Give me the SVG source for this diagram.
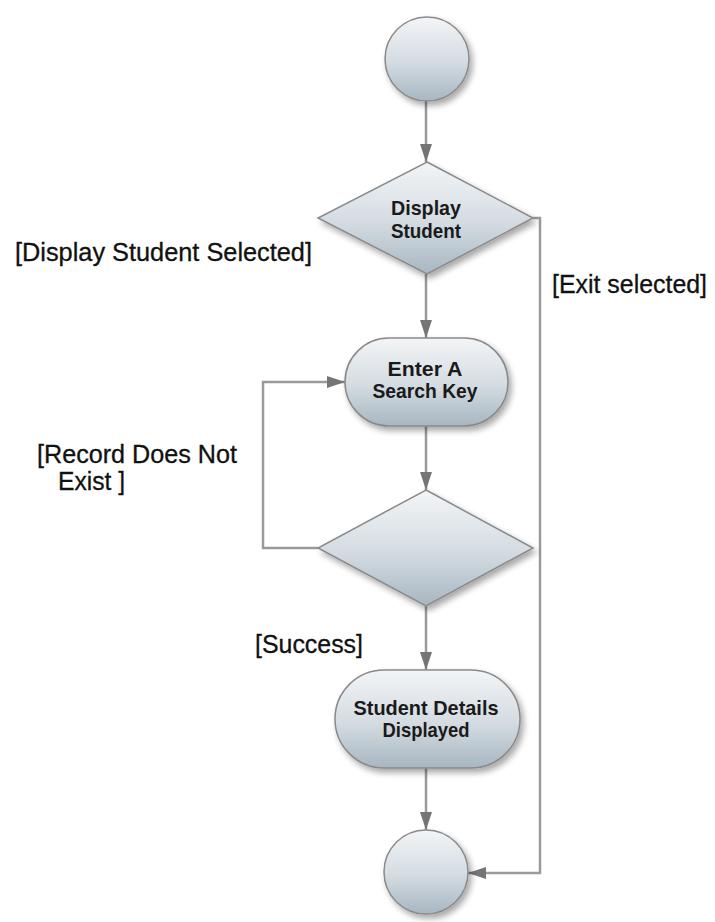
<svg xmlns="http://www.w3.org/2000/svg" width="715" height="922" viewBox="0 0 715 922">
<defs>
<linearGradient id="g" x1="0" y1="0" x2="0" y2="1">
<stop offset="0" stop-color="#f3f5f7"/>
<stop offset="0.55" stop-color="#d3dbe1"/>
<stop offset="1" stop-color="#a7b6c1"/>
</linearGradient>
<filter id="sh" x="-20%" y="-20%" width="150%" height="150%">
<feGaussianBlur in="SourceAlpha" stdDeviation="3"/>
<feOffset dx="3" dy="4" result="b"/>
<feComponentTransfer><feFuncA type="linear" slope="0.35"/></feComponentTransfer>
<feMerge><feMergeNode/><feMergeNode in="SourceGraphic"/></feMerge>
</filter>
<marker id="ah" markerWidth="18" markerHeight="12" refX="18" refY="6" orient="auto" markerUnits="userSpaceOnUse">
<path d="M0,0 L18,6 L0,12 Z" fill="#757575"/>
</marker>
</defs>
<style>
.node{fill:url(#g);stroke:#8a8a8a;stroke-width:1.5;filter:url(#sh)}
.conn{fill:none;stroke:#9a9a9a;stroke-width:2.5}
.nt{font-family:"Liberation Sans",Arial,sans-serif;font-weight:bold;font-size:20.5px;fill:#1a1a1a;text-anchor:middle}
.lbl{font-family:"Liberation Sans",Arial,sans-serif;font-size:25px;fill:#111111;stroke:#111111;stroke-width:0.3}
</style>
<rect width="715" height="922" fill="#ffffff"/>
<g id="connectors">
<path class="conn" d="M426,101 L426,162" marker-end="url(#ah)"/>
<path class="conn" d="M426,274 L426,338" marker-end="url(#ah)"/>
<path class="conn" d="M426,426 L426,490" marker-end="url(#ah)"/>
<path class="conn" d="M318,548 L263,548 L263,382 L345,382" marker-end="url(#ah)"/>
<path class="conn" d="M426,606 L426,670" marker-end="url(#ah)"/>
<path class="conn" d="M426,768 L426,830" marker-end="url(#ah)"/>
<path class="conn" d="M533,218 L540,218 L540,873 L468,873" marker-end="url(#ah)"/>
</g>
<g id="start"><circle class="node" cx="427" cy="59" r="42"/></g>
<g id="display-student">
<polygon class="node" points="427,162 533,218 427,274 318,218"/>
<text class="nt" x="426" y="215" textLength="70" lengthAdjust="spacingAndGlyphs">Display</text>
<text class="nt" x="426" y="238" textLength="70" lengthAdjust="spacingAndGlyphs">Student</text>
</g>
<g id="enter-search-key">
<rect class="node" x="345" y="338" width="163" height="88" rx="44" ry="44"/>
<text class="nt" x="425" y="376" textLength="75" lengthAdjust="spacingAndGlyphs">Enter A</text>
<text class="nt" x="425" y="398" textLength="105" lengthAdjust="spacingAndGlyphs">Search Key</text>
</g>
<g id="decision">
<polygon class="node" points="426,490 533,548 426,606 318,548"/>
</g>
<g id="student-details">
<rect class="node" x="335" y="670" width="185" height="98" rx="49" ry="49"/>
<text class="nt" x="426" y="715" textLength="145" lengthAdjust="spacingAndGlyphs">Student Details</text>
<text class="nt" x="426" y="737" textLength="87" lengthAdjust="spacingAndGlyphs">Displayed</text>
</g>
<g id="end"><circle class="node" cx="426" cy="872" r="42"/></g>
<g id="labels">
<text class="lbl" x="15" y="261" textLength="297" lengthAdjust="spacingAndGlyphs">[Display Student Selected]</text>
<text class="lbl" x="552" y="293" textLength="155" lengthAdjust="spacingAndGlyphs">[Exit selected]</text>
<text class="lbl" x="37" y="463" textLength="200" lengthAdjust="spacingAndGlyphs">[Record Does Not</text>
<text class="lbl" x="58" y="490" textLength="67" lengthAdjust="spacingAndGlyphs">Exist ]</text>
<text class="lbl" x="255" y="653" textLength="108" lengthAdjust="spacingAndGlyphs">[Success]</text>
</g>
</svg>
